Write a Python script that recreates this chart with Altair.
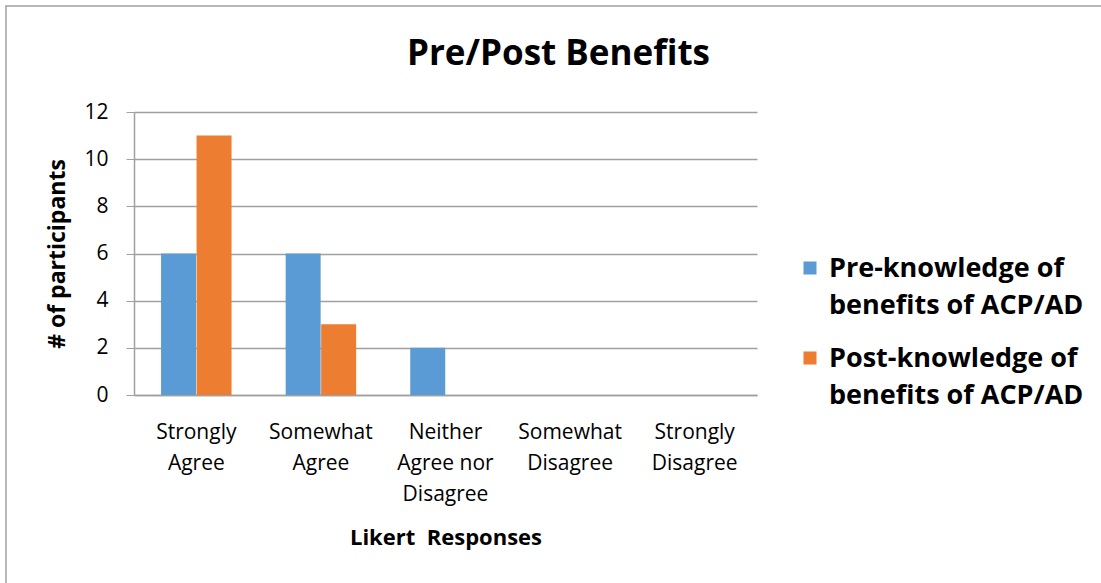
import altair as alt
import pandas as pd

categories = ["Strongly\nAgree", "Somewhat\nAgree", "Neither\nAgree nor\nDisagree",
              "Somewhat\nDisagree", "Strongly\nDisagree"]
series = ["Pre-knowledge of\nbenefits of ACP/AD", "Post-knowledge of\nbenefits of ACP/AD"]
pre_values = [6, 6, 2, 0, 0]
post_values = [11, 3, 0, 0, 0]
colors = ["#5B9BD5", "#ED7D31"]
y_ticks = [0, 2, 4, 6, 8, 10, 12]

rows = []
for c, p, q in zip(categories, pre_values, post_values):
    rows.append({"cat": c, "series": series[0], "value": p})
    rows.append({"cat": c, "series": series[1], "value": q})
df = pd.DataFrame(rows)
legend_df = pd.DataFrame({"series": series})

FONT = "Open Sans"
color_scale = alt.Scale(domain=series, range=colors)

border = alt.Chart(pd.DataFrame({"a": [0]})).mark_rect(
    fill="transparent", stroke="#a0a0a0", strokeWidth=1.5
).encode(
    x=alt.value(-128), x2=alt.value(1000), y=alt.value(-106), y2=alt.value(500)
)

bars = alt.Chart(df).mark_bar(size=35).encode(
    x=alt.X("cat:N", sort=categories,
            scale=alt.Scale(paddingInner=0.43, paddingOuter=0.215),
            axis=alt.Axis(title="Likert\u00a0 Responses", labelAngle=0,
                          labelExpr="split(datum.label, '\\n')",
                          labelFont=FONT, labelFontSize=21, labelColor="#000",
                          labelLineHeight=31, labelPadding=26, labelBaseline="top",
                          ticks=False, domainColor="#a0a0a0", domainWidth=1.5,
                          titleFont=FONT, titleFontSize=22, titleFontWeight="bold",
                          titleColor="#000", titleY=142, titleBaseline="middle")),
    xOffset=alt.XOffset("series:N", sort=series),
    y=alt.Y("value:Q", scale=alt.Scale(domain=[0, 12]),
            axis=alt.Axis(title="# of participants", values=y_ticks, format="d",
                          labelFont=FONT, labelFontSize=21, labelColor="#000",
                          labelPadding=18, tickSize=8, tickColor="#a0a0a0",
                          domainColor="#a0a0a0", domainWidth=1.5,
                          gridColor="#a0a0a0", gridWidth=1.5,
                          titleFont=FONT, titleFontSize=23, titleFontWeight="bold",
                          titleColor="#000", titleX=-77, titleBaseline="middle")),
    color=alt.Color("series:N", sort=series, scale=color_scale, legend=None),
)

leg_y = alt.Y("series:N", sort=series, axis=None,
              scale=alt.Scale(range=[156, 246], padding=0))

leg_sym = alt.Chart(legend_df).mark_square(size=169, opacity=1).encode(
    x=alt.value(676), y=leg_y,
    color=alt.Color("series:N", sort=series, scale=color_scale, legend=None),
)
leg_txt = alt.Chart(legend_df).mark_text(
    align="left", baseline="alphabetic", dy=9, lineBreak="\n", lineHeight=37,
    font=FONT, fontSize=27, fontWeight="bold", color="#000"
).encode(x=alt.value(695), y=leg_y, text="series:N")

chart = alt.layer(border, bars, leg_sym, leg_txt).resolve_scale(
    y="independent"
).properties(
    width=623, height=283,
    background="white",
    autosize=alt.AutoSizeParams(type="none"),
    padding={"left": 134, "top": 112, "right": 344, "bottom": 188},
    title=alt.TitleParams("Pre/Post Benefits", font=FONT, fontSize=35, fontWeight="bold",
                          color="#000", anchor="middle", dx=113, offset=-95,
                          baseline="alphabetic"),
).configure_view(stroke="transparent", strokeWidth=0)

chart.save("out.html", embed_options={"renderer": "svg", "actions": False})
